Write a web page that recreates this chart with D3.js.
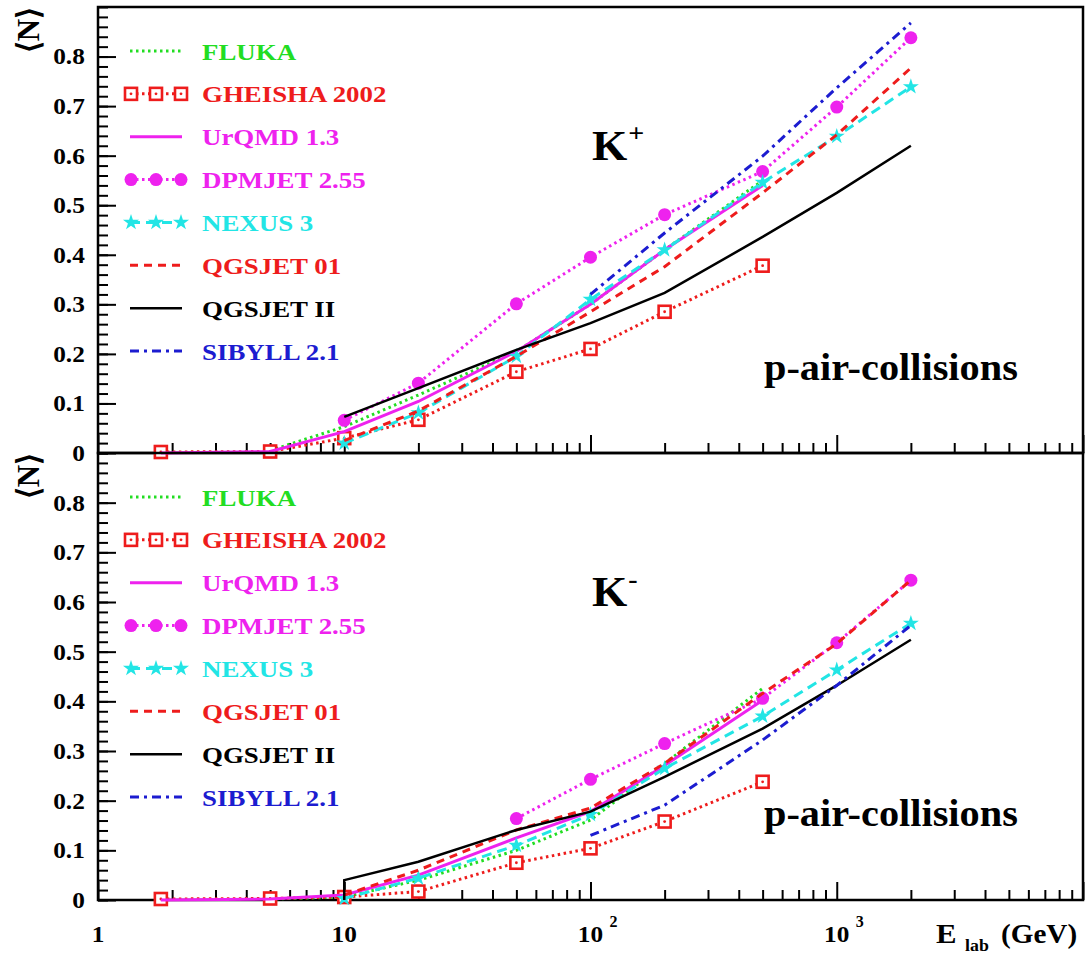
<!DOCTYPE html>
<meta charset="utf-8">
<style>
body { margin: 0; background: #fff; }
text { font-family: "Liberation Serif", "Times New Roman", serif; font-weight: bold; }
.domain { display: none; }
</style>
<svg width="1086" height="957"></svg>
<script src="https://cdn.jsdelivr.net/npm/d3@7"></script>
<script>
// beam energies (GeV) used by the generators
var eLow    = [1.8, 5, 10, 20, 50, 100, 200, 500];
var eFluka  = [5, 10, 20, 50, 100, 200, 500];
var eFull   = [10, 20, 50, 100, 200, 500, 1000, 2000];
var eDpmKm  = [50, 100, 200, 500, 1000, 2000];
var eSibyll = [100, 200, 500, 1000, 2000];
var eQgsKm  = [10, 10, 20, 50, 100, 200, 500, 1000, 2000];

// <N> of K+
var flukaKp   = [0.005, 0.053, 0.117, 0.205, 0.30, 0.41, 0.55];
var gheishaKp = [0.002, 0.003, 0.030, 0.067, 0.164, 0.21, 0.285, 0.378];
var urqmdKp   = [0.000, 0.003, 0.043, 0.104, 0.205, 0.30, 0.41, 0.54];
var dpmjetKp  = [0.066, 0.141, 0.301, 0.395, 0.481, 0.568, 0.698, 0.838];
var nexusKp   = [0.020, 0.081, 0.195, 0.31, 0.41, 0.546, 0.639, 0.739];
var qgs01Kp   = [0.025, 0.085, 0.195, 0.285, 0.376, 0.525, 0.642, 0.777];
var qgsIIKp   = [0.073, 0.131, 0.208, 0.262, 0.323, 0.436, 0.525, 0.62];
var sibyllKp  = [0.32, 0.444, 0.599, 0.737, 0.868];

// <N> of K-
var flukaKm   = [0.002, 0.006, 0.040, 0.10, 0.161, 0.275, 0.426];
var gheishaKm = [0.002, 0.003, 0.006, 0.017, 0.075, 0.104, 0.158, 0.238];
var urqmdKm   = [0.000, 0.002, 0.010, 0.050, 0.125, 0.178, 0.271, 0.402];
var dpmjetKm  = [0.164, 0.243, 0.315, 0.406, 0.518, 0.644];
var nexusKm   = [0.003, 0.044, 0.11, 0.172, 0.265, 0.37, 0.463, 0.557];
var qgs01Km   = [0.01, 0.06, 0.141, 0.185, 0.275, 0.416, 0.516, 0.644];
var qgsIIKm   = [0.0, 0.04, 0.077, 0.141, 0.178, 0.248, 0.345, 0.432, 0.524];
var sibyllKm  = [0.13, 0.191, 0.322, 0.432, 0.553];

var models = [
  {name: "FLUKA",        color: "#22dd22", dash: "2.5,3.5", width: 3,   marker: null},
  {name: "GHEISHA 2002", color: "#ee1c1c", dash: "2.5,3.5", width: 3,   marker: "square"},
  {name: "UrQMD 1.3",    color: "#ee22ee", dash: null,      width: 3,   marker: null},
  {name: "DPMJET 2.55",  color: "#ee22ee", dash: "2.5,3.5", width: 3,   marker: "circle"},
  {name: "NEXUS 3",      color: "#22e5e5", dash: "10,6",    width: 3,   marker: "star"},
  {name: "QGSJET 01",    color: "#ee1c1c", dash: "8,6",     width: 3,   marker: null},
  {name: "QGSJET II",    color: "#000000", dash: null,      width: 2.5, marker: null},
  {name: "SIBYLL 2.1",   color: "#1c1cd0", dash: "9,5,3,5", width: 3,   marker: null}
];

var kPlus  = [[eFluka, flukaKp], [eLow, gheishaKp], [eLow, urqmdKp], [eFull, dpmjetKp],
              [eFull, nexusKp], [eFull, qgs01Kp], [eFull, qgsIIKp], [eSibyll, sibyllKp]];
var kMinus = [[eFluka, flukaKm], [eLow, gheishaKm], [eLow, urqmdKm], [eDpmKm, dpmjetKm],
              [eFull, nexusKm], [eFull, qgs01Km], [eQgsKm, qgsIIKm], [eSibyll, sibyllKm]];

var xTickLabels = [{v: 1, t: "1"}, {v: 10, t: "10"}, {v: 100, t: "10", e: "2"}, {v: 1000, t: "10", e: "3"}];

var svg = d3.select("svg");
var left = 98, right = 1083;
var x = d3.scaleLog().domain([1, 1e4]).range([left, right]);

var panels = [
  {top: 7,   bottom: 453, sup: "+", data: kPlus,  xlabels: false},
  {top: 453, bottom: 900, sup: "-", data: kMinus, xlabels: true}
];

var majorX = [1, 10, 100, 1000, 1e4];
var minorX = [];
[1, 10, 100, 1000].forEach(function(d) {
  for (var k = 2; k <= 9; k++) minorX.push(d * k);
});

function drawMarker(g, type, color, cx, cy) {
  if (type === "square") {
    g.append("rect").attr("x", cx - 6).attr("y", cy - 6).attr("width", 12).attr("height", 12)
      .attr("fill", "#fff").attr("stroke", color).attr("stroke-width", 2.6);
    g.append("circle").attr("cx", cx).attr("cy", cy).attr("r", 1.4).attr("fill", color);
  } else if (type === "circle") {
    g.append("circle").attr("cx", cx).attr("cy", cy).attr("r", 6.5).attr("fill", color);
  } else if (type === "star") {
    g.append("path").attr("d", d3.symbol(d3.symbolStar).size(80)())
      .attr("transform", "translate(" + cx + "," + cy + ")").attr("fill", color);
  }
}

panels.forEach(function(p) {
  var y = d3.scaleLinear().domain([0, 0.9]).range([p.bottom, p.top]);
  var g = svg.append("g");

  // y axis: minor and major ticks pointing inward
  g.append("g").attr("transform", "translate(" + left + ",0)")
    .call(d3.axisLeft(y).tickValues(d3.range(0, 0.901, 0.02)).tickSize(-10).tickFormat(""))
    .selectAll("line").attr("stroke-width", 2);
  var ya = g.append("g").attr("transform", "translate(" + left + ",0)")
    .call(d3.axisLeft(y).tickValues(d3.range(0, 0.85, 0.1)).tickSize(-18).tickPadding(12)
      .tickFormat(function(d) { return d === 0 ? "0" : d3.format(".1f")(d); }));
  ya.selectAll("line").attr("stroke-width", 2);
  ya.selectAll("text").attr("font-size", 23).attr("fill", "#000")
    .attr("font-family", "Liberation Serif").attr("font-weight", "bold")
    .attr("transform", "scale(1.1,1)");

  // x axis ticks pointing up
  g.append("g").attr("transform", "translate(0," + p.bottom + ")")
    .call(d3.axisBottom(x).tickValues(minorX).tickSize(-10).tickFormat(""))
    .selectAll("line").attr("stroke-width", 2);
  g.append("g").attr("transform", "translate(0," + p.bottom + ")")
    .call(d3.axisBottom(x).tickValues(majorX).tickSize(-18).tickFormat(""))
    .selectAll("line").attr("stroke-width", 2);

  // frame
  g.append("rect").attr("x", left).attr("y", p.top)
    .attr("width", right - left).attr("height", p.bottom - p.top)
    .attr("fill", "none").attr("stroke", "#000").attr("stroke-width", 2.5);

  // curves
  var line = d3.line().x(function(d) { return x(d[0]); }).y(function(d) { return y(d[1]); });
  models.forEach(function(m, i) {
    var pts = p.data[i][0].map(function(e, j) { return [e, p.data[i][1][j]]; });
    g.append("path").datum(pts).attr("d", line).attr("fill", "none")
      .attr("stroke", m.color).attr("stroke-width", m.width)
      .attr("stroke-dasharray", m.dash);
    if (m.marker) {
      pts.forEach(function(d) { drawMarker(g, m.marker, m.color, x(d[0]), y(d[1])); });
    }
  });

  // legend
  models.forEach(function(m, i) {
    var cy = p.top + 44 + i * 42.86;
    g.append("line").attr("x1", 130).attr("x2", 182).attr("y1", cy).attr("y2", cy)
      .attr("stroke", m.color).attr("stroke-width", m.width).attr("stroke-dasharray", m.dash);
    if (m.marker) {
      [131, 156, 181].forEach(function(cx) { drawMarker(g, m.marker, m.color, cx, cy); });
    }
    g.append("text").attr("transform", "translate(202," + (cy + 8.5) + ") scale(1.12,1)")
      .attr("font-size", 24).attr("fill", m.color).text(m.name);
  });

  // particle label
  var k = g.append("text").attr("transform", "translate(592," + (p.top + 153) + ") scale(1.08,1)")
    .attr("font-size", 42).attr("fill", "#000");
  k.append("tspan").text("K");
  k.append("tspan").attr("font-size", 26).attr("dy", -18).attr("dx", 1).text(p.sup);

  g.append("text").attr("transform", "translate(764," + (p.top + 373) + ") scale(1.09,1)")
    .attr("font-size", 37).attr("fill", "#000").text("p-air-collisions");

  // y title
  g.append("text").attr("transform", "translate(39," + (p.top + 23) + ") rotate(-90)")
    .attr("text-anchor", "middle").attr("font-size", 31).attr("font-weight", "bold")
    .attr("font-family", "DejaVu Serif").text("\u27E8N\u27E9");

  if (p.xlabels) {
    xTickLabels.forEach(function(t) {
      var tx = g.append("text").attr("transform", "translate(" + x(t.v) + ",942) scale(1.1,1)")
        .attr("font-size", 23).attr("text-anchor", "middle").attr("fill", "#000");
      tx.append("tspan").text(t.t);
      if (t.e) {
        g.append("text").attr("transform", "translate(" + (x(t.v) + 19) + ",927)")
          .attr("font-size", 16).attr("fill", "#000").text(t.e);
      }
    });
    g.append("text").attr("transform", "translate(936,943) scale(1.1,1)")
      .attr("font-size", 28).attr("fill", "#000").text("E");
    g.append("text").attr("transform", "translate(965,951) scale(1.05,1)")
      .attr("font-size", 17).attr("fill", "#000").text("lab");
    g.append("text").attr("transform", "translate(1001,943) scale(1.08,1)")
      .attr("font-size", 27).attr("fill", "#000").text("(GeV)");
  }
});
</script>
